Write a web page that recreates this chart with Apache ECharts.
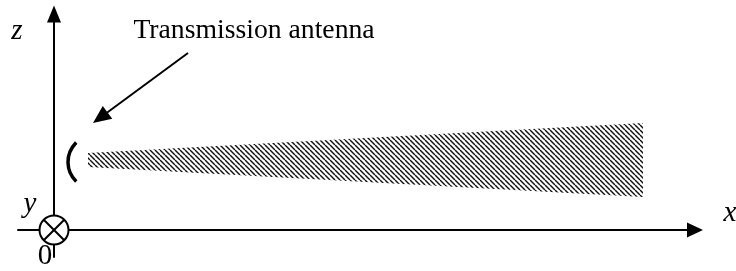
<!DOCTYPE html>
<html>
<head>
<meta charset="utf-8">
<script src="https://cdn.jsdelivr.net/npm/echarts@6/dist/echarts.min.js"></script>
<style>
html, body { margin: 0; padding: 0; background: #fff; }
#chart { width: 736px; height: 271px; }
</style>
</head>
<body>
<div id="chart"></div>
<script>
// axis extents (1 unit = 1 px, origin at the y marker)
var xRange = [-36, 641];
var zRange = [-27, 216];

// hatched beam, left and right edge
var beamX = [34, 589];
var beamTop = [77, 107];
var beamBottom = [63, 33];

// antenna arc
var antennaCenter = [41, 68];
var antennaRadius = 27;

// pointer from the caption to the antenna
var pointerFrom = [134, 177];
var pointerTo = [39, 107];

var caption = "Transmission antenna";
var captionPos = [200, 199];

// axis letters
var labelTexts = ["z", "y", "x", "0"];
var labelX = [-37, -24, 676, -9];
var labelY = [199, 26, 17, -26];
var labelItalic = [true, true, true, false];

var serif = "'Liberation Serif', 'Times New Roman', serif";

function makeHatch() {
  var c = document.createElement("canvas");
  c.width = 5;
  c.height = 5;
  var ctx = c.getContext("2d");
  ctx.strokeStyle = "#111";
  ctx.lineWidth = 1.4;
  [-5, 0, 5].forEach(function (o) {
    ctx.beginPath();
    ctx.moveTo(o, 0);
    ctx.lineTo(o + 5, 5);
    ctx.stroke();
  });
  return c;
}
var hatch = makeHatch();

var chart = echarts.init(document.getElementById("chart"));

function axisBase(range, arrowSize) {
  return {
    type: "value",
    min: range[0],
    max: range[1],
    axisLine: {
      onZero: true,
      symbol: ["none", "triangle"],
      symbolSize: arrowSize,
      lineStyle: { color: "#000", width: 2 },
    },
    axisTick: { show: false },
    axisLabel: { show: false },
    splitLine: { show: false },
  };
}

chart.setOption({
  animation: false,
  backgroundColor: "#fff",
  grid: { left: 18, right: 41, top: 14, bottom: 14, outerBoundsMode: "none" },
  xAxis: axisBase(xRange, [15, 16]),
  yAxis: axisBase(zRange, [14, 17]),
  series: [
    {
      // beam
      type: "custom",
      data: [[0, 0]],
      renderItem: function (params, api) {
        var pts = [
          api.coord([beamX[0], beamTop[0]]),
          api.coord([beamX[1], beamTop[1]]),
          api.coord([beamX[1], beamBottom[1]]),
          api.coord([beamX[0], beamBottom[0]]),
        ];
        return {
          type: "polygon",
          shape: { points: pts },
          style: { fill: { image: hatch, repeat: "repeat" } },
        };
      },
    },
    {
      // antenna
      type: "custom",
      data: [[0, 0]],
      renderItem: function (params, api) {
        var c = api.coord(antennaCenter);
        var r = api.size([antennaRadius, 0])[0];
        return {
          type: "arc",
          shape: {
            cx: c[0],
            cy: c[1],
            r: r,
            startAngle: (134 * Math.PI) / 180,
            endAngle: (226 * Math.PI) / 180,
            clockwise: true,
          },
          style: { stroke: "#000", lineWidth: 3.5, fill: null },
        };
      },
    },
    {
      // pointer arrow
      type: "custom",
      data: [[0, 0]],
      renderItem: function (params, api) {
        var a = api.coord(pointerFrom);
        var b = api.coord(pointerTo);
        var dx = b[0] - a[0], dy = b[1] - a[1];
        var len = Math.sqrt(dx * dx + dy * dy);
        var ux = dx / len, uy = dy / len;
        var head = 18, half = 8;
        var bx = b[0] - ux * head, by = b[1] - uy * head;
        return {
          type: "group",
          children: [
            {
              type: "line",
              shape: { x1: a[0], y1: a[1], x2: bx + ux * 2, y2: by + uy * 2 },
              style: { stroke: "#000", lineWidth: 2 },
            },
            {
              type: "polygon",
              shape: {
                points: [
                  b,
                  [bx - uy * half, by + ux * half],
                  [bx + uy * half, by - ux * half],
                ],
              },
              style: { fill: "#000" },
            },
          ],
        };
      },
    },
    {
      // y axis marker at the origin
      type: "custom",
      data: [[0, 0]],
      renderItem: function (params, api) {
        var c = api.coord([0, 0]);
        var r = 14.5;
        var d = r * Math.SQRT1_2;
        return {
          type: "group",
          children: [
            {
              type: "circle",
              shape: { cx: c[0], cy: c[1], r: r },
              style: { fill: "#fff", stroke: "#000", lineWidth: 2 },
            },
            {
              type: "line",
              shape: { x1: c[0] - d, y1: c[1] - d, x2: c[0] + d, y2: c[1] + d },
              style: { stroke: "#000", lineWidth: 2 },
            },
            {
              type: "line",
              shape: { x1: c[0] - d, y1: c[1] + d, x2: c[0] + d, y2: c[1] - d },
              style: { stroke: "#000", lineWidth: 2 },
            },
          ],
        };
      },
    },
    {
      // texts
      type: "custom",
      data: labelTexts.map(function (t, i) { return [labelX[i], labelY[i]]; }).concat([captionPos]),
      renderItem: function (params, api) {
        var i = params.dataIndex;
        var p = api.coord([api.value(0), api.value(1)]);
        var isCaption = i === labelTexts.length;
        return {
          type: "text",
          style: {
            text: isCaption ? caption : labelTexts[i],
            x: p[0],
            y: p[1],
            align: "center",
            verticalAlign: "middle",
            fontFamily: serif,
            fontSize: isCaption ? 27.7 : 29,
            fontStyle: !isCaption && labelItalic[i] ? "italic" : "normal",
            fill: "#000",
          },
        };
      },
    },
  ],
});
</script>
</body>
</html>
